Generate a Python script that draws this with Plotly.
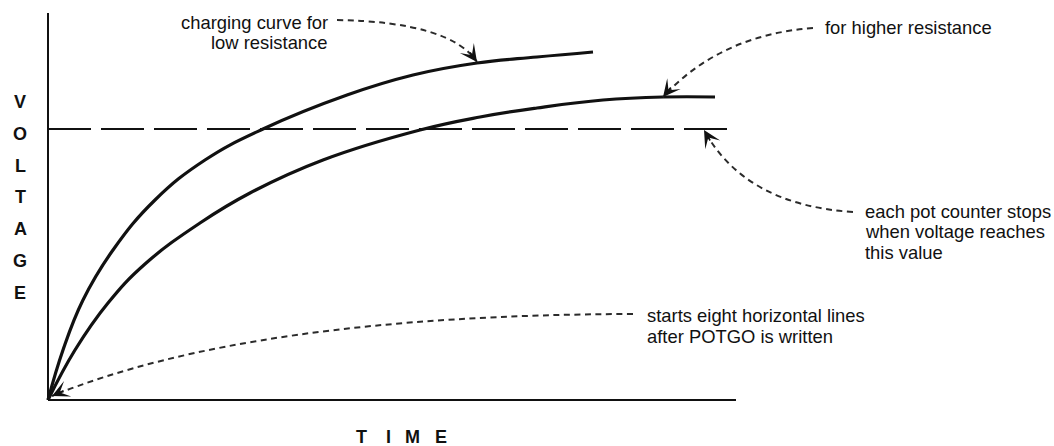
import plotly.graph_objects as go

# ---- data: capacitor charging curves (time, voltage) in drawing units ----
time_low_r = [0, 15, 35, 65, 107, 157, 215, 299, 365, 429, 489, 545]
volt_low_r = [0, 50, 100, 150, 200, 240, 271, 305, 325, 337, 343, 348]

time_high_r = [0, 27, 60, 97, 152, 202, 275, 372, 432, 489, 555, 615, 667]
volt_high_r = [0, 50, 97, 136, 177, 207, 240, 270, 283, 292, 300, 303, 303]

threshold_volt = 271          # level at which each pot counter stops
threshold_time = [0, 683]     # extent of the dashed threshold line
time_axis_end = 688
volt_axis_end = 387

W, H = 1054, 446
OX, OY = 48, 400  # screen position of the origin


def d(px, py):
    """screen pixel -> data coordinates"""
    return px - OX, OY - py


INK = "#111111"
LEAD = "#2b2b2b"
FONT = "Liberation Sans, Arial, Helvetica, sans-serif"

fig = go.Figure()

# axes drawn as plain lines from the origin
fig.add_trace(go.Scatter(x=[0, time_axis_end], y=[0, 0], mode="lines",
                         line=dict(color=INK, width=2), hoverinfo="skip"))
fig.add_trace(go.Scatter(x=[0, 0], y=[0, volt_axis_end], mode="lines",
                         line=dict(color=INK, width=2), hoverinfo="skip"))

# threshold
fig.add_trace(go.Scatter(x=threshold_time, y=[threshold_volt] * 2, mode="lines",
                         line=dict(color=INK, width=2, dash="43px,10px"),
                         hoverinfo="skip"))

# charging curves
for tt, vv in ((time_low_r, volt_low_r), (time_high_r, volt_high_r)):
    fig.add_trace(go.Scatter(x=tt, y=vv, mode="lines",
                             line=dict(color=INK, width=3.2, shape="spline", smoothing=1.2),
                             hoverinfo="skip"))

# curved dashed leaders: start, control, tip (screen px), plus arrow tail offset
leaders = [
    ((337, 20), (450, 22), (477, 62), (-8, -11)),
    ((813, 28), (720, 35), (663, 97), (9, -11)),
    ((853, 212), (745, 205), (704, 130), (7, 12)),
    ((633, 314), (250, 315), (52, 396), (13, -6)),
]

shapes = []
annotations = []
for p0, c, p1, (tx, ty) in leaders:
    a, b, e = d(*p0), d(*c), d(*p1)
    shapes.append(dict(
        type="path", xref="x", yref="y",
        path=f"M {a[0]},{a[1]} Q {b[0]},{b[1]} {e[0]},{e[1]}",
        line=dict(color=LEAD, width=2, dash="6px,4.5px"),
    ))
    annotations.append(dict(
        x=e[0], y=e[1], xref="x", yref="y", ax=tx, ay=ty,
        text="", showarrow=True, arrowhead=3, arrowsize=1.8, arrowwidth=1.6,
        arrowcolor=INK, standoff=0,
    ))

# callout texts: (lines, anchor x px, first line centre y px, xanchor, line step)
notes = [
    (["charging curve for", "low resistance"], 330, 22, "right", 20),
    (["for higher resistance"], 823, 27, "left", 20),
    (["each pot counter stops", "when voltage reaches", "this value"], 863, 211, "left", 20.5),
    (["starts eight horizontal lines", "after POTGO is written"], 645, 315, "left", 21),
]
for lines, x, y, xa, step in notes:
    for i, line in enumerate(lines):
        px, py = d(x, y + i * step)
        annotations.append(dict(
            x=px, y=py, xref="x", yref="y", text=line, showarrow=False,
            xanchor=xa, yanchor="middle",
            font=dict(family=FONT, size=18.4, color=INK),
        ))

# spaced axis titles
for i, ch in enumerate("VOLTAGE"):
    px, py = d(20, 102 + i * 31.8)
    annotations.append(dict(x=px, y=py, xref="x", yref="y", text=f"<b>{ch}</b>",
                            showarrow=False, xanchor="center", yanchor="middle",
                            font=dict(family=FONT, size=18, color=INK)))
for ch, cx in zip("TIME", [361, 388, 412, 441]):
    px, py = d(cx, 437)
    annotations.append(dict(x=px, y=py, xref="x", yref="y", text=f"<b>{ch}</b>",
                            showarrow=False, xanchor="center", yanchor="middle",
                            font=dict(family=FONT, size=18, color=INK)))

fig.update_layout(
    width=W, height=H,
    margin=dict(l=0, r=0, t=0, b=0, pad=0),
    paper_bgcolor="white", plot_bgcolor="white",
    showlegend=False,
    xaxis=dict(range=[-OX, W - OX], visible=False, fixedrange=True),
    yaxis=dict(range=[OY - H, OY], visible=False, fixedrange=True),
    shapes=shapes,
    annotations=annotations,
)

fig.write_html("out.html", config={"displayModeBar": False})
